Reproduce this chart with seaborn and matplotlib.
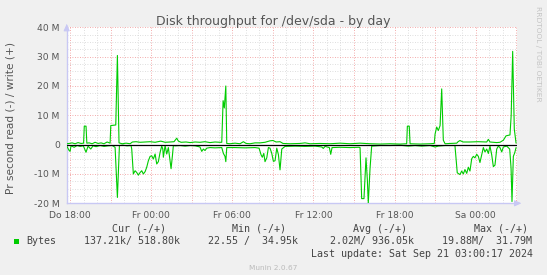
import matplotlib
matplotlib.use("Agg")
import matplotlib.pyplot as plt
from matplotlib.patches import Rectangle
from matplotlib.ticker import MultipleLocator, FixedLocator
import seaborn as sns
import pandas as pd

# ---------------- data (hours since Do 18:00, values in M bytes/s) ----------------
write_hours = [-0.24, -0.07, 0.15, 0.37, 0.59, 0.81, 1.00, 1.05, 1.18, 1.24, 1.41, 1.63, 1.85,
               2.07, 2.29, 2.51, 2.74, 2.96, 3.01, 3.38, 3.50, 3.62, 3.85, 4.14, 4.44, 4.61,
               4.88, 5.18, 5.55, 5.92, 6.29, 6.71, 7.03, 7.40, 7.69, 7.89, 8.01, 8.21, 8.58,
               8.88, 9.25, 9.61, 9.98, 10.35, 10.72, 11.09, 11.22, 11.32, 11.41, 11.52, 11.59,
               11.83, 12.20, 12.57, 12.82, 13.02, 13.31, 13.68, 14.05, 14.42, 14.79, 15.01,
               15.24, 15.53, 15.75, 16.27, 17.01, 17.38, 17.75, 18.49, 19.23, 19.97, 20.71,
               21.45, 22.19, 22.93, 23.67, 24.41, 24.90, 24.95, 25.09, 25.15, 25.89, 26.63,
               26.94, 27.00, 27.12, 27.24, 27.37, 27.49, 27.61, 27.74, 28.11, 28.60, 28.70,
               28.84, 29.07, 29.58, 30.18, 30.82, 30.94, 31.06, 31.56, 31.80, 32.05, 32.25,
               32.54, 32.63, 32.74, 32.86, 32.99]
write_values = [0.3, 0.4, 0.6, 0.3, 0.7, 0.4, 0.5, 6.3, 6.3, 0.5, 0.6, 0.3, 0.8,
                0.4, 0.6, 0.3, 0.9, 0.5, 6.5, 6.7, 30.4, 0.6, 0.3, 0.5, 0.3, 0.9,
                1.0, 0.8, 0.9, 1.0, 0.8, 1.2, 0.8, 0.9, 1.0, 2.2, 1.2, 0.8, 0.9,
                0.7, 0.9, 0.8, 1.0, 0.7, 0.9, 0.8, 0.8, 15.0, 12.5, 20.0, 0.4,
                0.3, 0.5, 0.3, 1.0, 0.4, 0.3, 0.6, 0.6, 0.8, 1.3, 1.4,
                0.9, 1.0, 0.4, 0.3, 0.4, 0.6, 0.3, 0.4, 0.3, 0.5, 0.3,
                0.5, 0.3, 0.2, 0.3, 0.2, 0.3, 6.3, 6.3, 0.3, 0.2, 0.3,
                0.4, 3.6, 6.0, 4.8, 6.5, 19.0, 1.5, 0.3, 0.4, 0.5, 1.0,
                1.4, 0.9, 0.9, 1.0, 0.9, 1.8, 0.9, 0.7, 0.8, 1.5, 3.0,
                3.3, 10.0, 31.8, 5.3, 0.5]

read_hours = [-0.24, -0.07, 0.00, 0.07, 0.30, 0.52, 0.74, 0.98, 1.18, 1.33, 1.53, 1.70, 1.92,
              2.22, 2.51, 2.81, 3.11, 3.33, 3.50, 3.65, 3.92, 4.22, 4.51, 4.56, 4.68, 4.81,
              4.93, 5.05, 5.18, 5.30, 5.42, 5.55, 5.67, 5.79, 5.92, 6.04, 6.16, 6.29, 6.41,
              6.53, 6.66, 6.78, 6.86, 6.90, 7.03, 7.15, 7.27, 7.40, 7.47, 7.57, 7.64, 7.77,
              8.14, 8.51, 8.88, 9.25, 9.61, 9.74, 9.86, 9.98, 10.11, 10.35, 10.72, 11.22,
              11.34, 11.46, 11.52, 11.59, 12.20, 12.94, 13.68, 13.98, 14.13, 14.22, 14.33,
              14.42, 14.55, 14.67, 14.79, 14.92, 15.04, 15.16, 15.29, 15.41, 15.53, 15.66,
              15.90, 16.64, 17.38, 18.12, 18.62, 18.73, 18.86, 19.18, 19.28, 19.38, 19.97,
              20.71, 21.37, 21.45, 21.57, 21.74, 21.89, 21.99, 22.06, 22.19, 22.31, 22.93,
              23.67, 24.41, 25.02, 25.52, 26.01, 26.63, 27.00, 27.24, 27.74, 28.47, 28.64,
              28.84, 28.97, 29.09, 29.21, 29.34, 29.46, 29.58, 29.71, 29.83, 29.95, 30.08,
              30.20, 30.32, 30.45, 30.57, 30.69, 30.82, 30.94, 31.06, 31.19, 31.31, 31.43,
              31.56, 31.68, 31.80, 31.93, 32.05, 32.30, 32.52, 32.62, 32.69, 32.79, 32.89,
              32.99]
read_values = [0.5, 2.0, 2.3, 0.4, 0.9, 0.3, 0.6, 0.4, 2.6, 0.5, 1.5, 0.4, 0.7,
               0.3, 0.6, 0.4, 0.3, 0.9, 18.0, 0.3, 0.2, 0.4, 0.3, 1.5, 10.0, 8.9,
               9.5, 10.4, 9.5, 8.9, 10.0, 9.2, 7.7, 5.5, 4.0, 3.8, 4.9, 3.2, 6.6,
               5.8, 2.6, 0.5, 1.5, 4.3, 0.3, 3.2, 1.0, 5.5, 8.2, 3.8, 0.3, 0.4,
               0.3, 0.5, 0.3, 0.4, 0.8, 2.3, 1.5, 2.0, 1.2, 1.0, 1.1, 1.0,
               3.0, 4.0, 5.8, 1.0, 1.0, 1.1, 1.0, 1.2, 3.5, 4.3, 3.0,
               5.8, 4.5, 1.0, 1.2, 3.0, 5.7, 5.5, 1.2, 3.4, 8.6, 1.5,
               0.6, 0.5, 0.6, 0.5, 0.8, 1.3, 0.6, 1.0, 3.3, 1.0, 0.9,
               1.0, 0.9, 1.0, 18.4, 18.4, 4.5, 12.0, 19.9, 8.0, 0.5, 0.3,
               0.3, 0.2, 0.5, 0.3, 0.5, 0.3, 0.8, 0.5, 0.3, 0.3, 9.6,
               10.2, 9.0, 10.0, 8.5, 9.8, 7.7, 9.0, 4.8, 4.0, 4.5, 3.3,
               4.0, 6.1, 3.4, 1.0, 2.5, 1.5, 3.0, 0.5, 3.5, 7.5, 7.0,
               1.5, 0.5, 1.0, 2.5, 0.8, 0.5, 1.5, 8.0, 19.4, 4.0, 2.8,
               1.0]

x_tick_hours = [0, 6, 12, 18, 24, 30]
x_tick_labels = ["Do 18:00", "Fr 00:00", "Fr 06:00", "Fr 12:00", "Fr 18:00", "Sa 00:00"]
y_ticks = [-20, -10, 0, 10, 20, 30, 40]
y_tick_labels = ["-20 M", "-10 M", "0", "10 M", "20 M", "30 M", "40 M"]

title = "Disk throughput for /dev/sda - by day"
y_label = "Pr second read (-) / write (+)"
legend_headers = ["Cur (-/+)", "Min (-/+)", "Avg (-/+)", "Max (-/+)"]
legend_name = "Bytes"
legend_values = ["137.21k/ 518.80k", "22.55 /  34.95k", "2.02M/ 936.05k", "19.88M/  31.79M"]
last_update = "Last update: Sat Sep 21 03:00:17 2024"
footer = "Munin 2.0.67"
side_text = "RRDTOOL / TOBI OETIKER"

# ---------------- styling ----------------
sns.set_style("white")
plt.rcParams["font.family"] = ["DejaVu Sans"]

GREEN = "#00CC00"
BACK = "#F0F0F0"
TXT = "#555555"
W, H = 547, 275

fig = plt.figure(figsize=(W / 100, H / 100), dpi=100, facecolor=BACK)
px_l, px_r, px_t, px_b = 66.7, 517.0, 27.3, 203.3
ax = fig.add_axes([px_l / W, 1 - px_b / H, (px_r - px_l) / W, (px_b - px_t) / H])
ax.set_facecolor("white")

df = pd.concat([
    pd.DataFrame({"hour": write_hours, "value": write_values, "series": "write"}),
    pd.DataFrame({"hour": read_hours, "value": [-v for v in read_values], "series": "read"}),
], ignore_index=True)

sns.lineplot(data=df, x="hour", y="value", hue="series",
             palette={"write": GREEN, "read": GREEN}, estimator=None,
             legend=False, ax=ax, linewidth=0.8, zorder=4)
ax.axhline(0, color="black", lw=0.9, zorder=5)

ax.set_xlim(-0.25, 33.06)
ax.set_ylim(-20, 40)

# grids
ax.xaxis.set_major_locator(FixedLocator(list(range(0, 34, 3))))
ax.xaxis.set_minor_locator(MultipleLocator(1))
ax.yaxis.set_major_locator(FixedLocator(y_ticks))
ax.yaxis.set_minor_locator(MultipleLocator(2.5))
ax.grid(which="minor", color="#D4D4D4", lw=0.6, ls=(0, (1, 2)), zorder=1)
ax.grid(which="major", color="#F09090", lw=0.6, ls=(0, (1, 2)), zorder=2)

lab_map = dict(zip(x_tick_hours, x_tick_labels))
ax.set_xticklabels([lab_map.get(h, "") for h in range(0, 34, 3)])
ax.set_yticklabels(y_tick_labels)
ax.set_xlabel("")
ax.set_ylabel("")
ax.tick_params(axis="both", which="major", labelsize=6.6, labelcolor=TXT,
               color="#F08080", length=2, width=0.6, direction="out")
ax.tick_params(axis="both", which="minor", color="#BBBBBB", length=1.5, width=0.6,
               direction="out")
ax.tick_params(axis="x", which="major", pad=3.5)
ax.tick_params(axis="y", which="major", pad=3)

for s in ["top", "right"]:
    ax.spines[s].set_visible(False)
for s in ["left", "bottom"]:
    ax.spines[s].set_color("#C8C8F4")
    ax.spines[s].set_linewidth(1.0)

# axis arrows
ax.annotate("", xy=(0, 1.035), xytext=(0, 0.99), xycoords="axes fraction",
            arrowprops=dict(arrowstyle="-|>,head_width=0.18,head_length=0.4",
                            color="#C8C8F4", lw=0.8), annotation_clip=False)
ax.annotate("", xy=(1.016, 0), xytext=(0.995, 0), xycoords="axes fraction",
            arrowprops=dict(arrowstyle="-|>,head_width=0.18,head_length=0.4",
                            color="#C8C8F4", lw=0.8), annotation_clip=False)

# texts
fig.text(0.5, 1 - 25 / H, title, ha="center", va="baseline", fontsize=9, color=TXT)
fig.text(10.5 / W, 1 - 118 / H, y_label, rotation=90, ha="center", va="center",
         fontsize=7.6, color=TXT)
fig.text(538 / W, 1 - 53.5 / H, side_text, rotation=270, ha="center", va="center",
         fontsize=5.4, color="#C4C4C4")

mono = dict(family="DejaVu Sans Mono", fontsize=7.2, color="#444444", va="baseline")
header_x = [111.7, 232.0, 353.0, 473.5]
value_x = [83.7, 207.6, 330.4, 442.4]
for hx, htxt in zip(header_x, legend_headers):
    fig.text(hx / W, 1 - 231.5 / H, htxt, ha="left", **mono)
fig.text(26.2 / W, 1 - 244 / H, legend_name, ha="left", **mono)
for vx, vtxt in zip(value_x, legend_values):
    fig.text(vx / W, 1 - 244 / H, vtxt, ha="left", **mono)
fig.text(533 / W, 1 - 257 / H, last_update, ha="right", **mono)
fig.patches.append(Rectangle((14 / W, 1 - 244.2 / H), 5.4 / W, 5.4 / H,
                             transform=fig.transFigure, facecolor=GREEN,
                             edgecolor="none", figure=fig))
fig.text(273.5 / W, 1 - 269.5 / H, footer, ha="center", va="baseline",
         fontsize=5.3, color="#BBBBBB")

fig.savefig("out.png", dpi=100, facecolor=BACK)
